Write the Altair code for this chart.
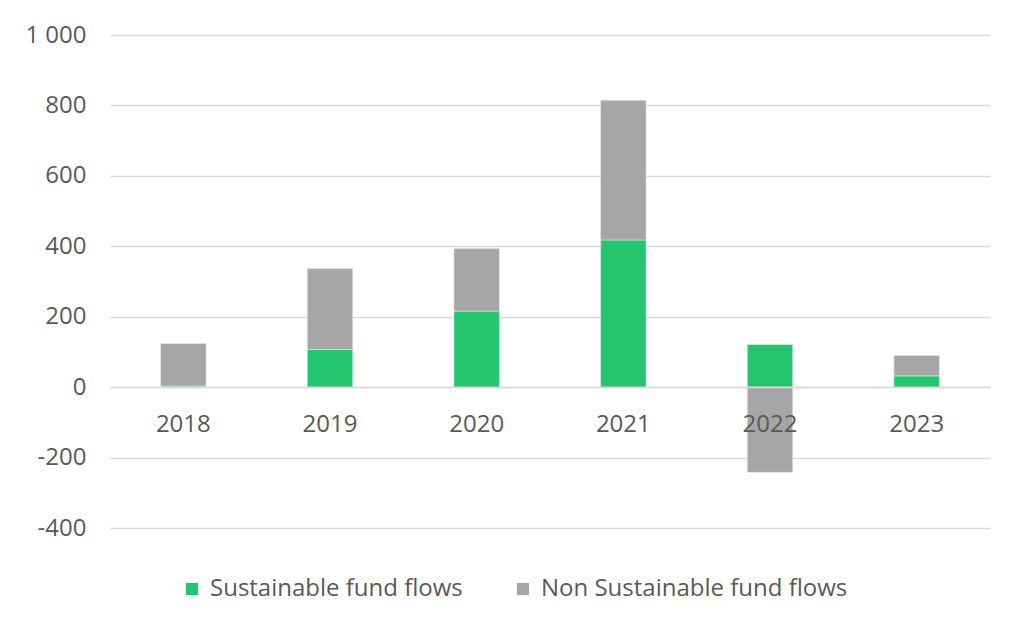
import altair as alt
import pandas as pd

years = ["2018", "2019", "2020", "2021", "2022", "2023"]
sustainable = [3, 107, 216, 418, 121, 32]
non_sustainable = [121, 230, 178, 397, -242, 58]
series = ["Sustainable fund flows", "Non Sustainable fund flows"]
colors = ["#23C56E", "#A6A6A6"]

rows = []
for i, y in enumerate(years):
    rows.append({"year": y, "series": series[0], "value": sustainable[i], "ord": 0})
    rows.append({"year": y, "series": series[1], "value": non_sustainable[i], "ord": 1})
df = pd.DataFrame(rows)

FONT = "Open Sans"
TXT = "#595959"
FS = 24

chart = alt.Chart(df).mark_bar(stroke="#e8e8e8", strokeWidth=0.6).encode(
    x=alt.X("year:N", sort=years, title=None,
            scale=alt.Scale(paddingInner=0.69, paddingOuter=0.345),
            axis=alt.Axis(offset=-141, labelAngle=0, labelFontSize=FS, labelColor=TXT,
                          labelFont=FONT, labelPadding=25, ticks=False, zindex=1,
                          domainColor="#d9d9d9", domainWidth=1.5)),
    y=alt.Y("value:Q", title=None, stack="zero",
            scale=alt.Scale(domain=[-400, 1000], nice=False),
            axis=alt.Axis(values=[-400, -200, 0, 200, 400, 600, 800, 1000],
                          labelExpr="replace(replace(format(datum.value, ','), ',', ' '), '\u2212', '-')",
                          labelFontSize=FS, labelColor=TXT, labelFont=FONT,
                          labelPadding=24, ticks=False, domain=False,
                          gridColor="#d9d9d9", gridWidth=1.5)),
    color=alt.Color("series:N", sort=series,
                    scale=alt.Scale(domain=series, range=colors),
                    legend=alt.Legend(title=None, orient="none", direction="horizontal",
                                      legendX=70, legendY=542,
                                      symbolType="square", symbolSize=150,
                                      symbolStrokeWidth=0, labelLimit=500,
                                      labelFontSize=FS, labelColor=TXT, labelFont=FONT,
                                      columnPadding=48, labelOffset=6)),
    order=alt.Order("ord:Q"),
).properties(
    width=880, height=493,
    padding={"left": 102, "top": 27, "right": 26, "bottom": 99},
    autosize=alt.AutoSizeParams(type="none"),
).configure_view(stroke=None)

chart.save("out.html", embed_options={"renderer": "svg", "actions": False})
